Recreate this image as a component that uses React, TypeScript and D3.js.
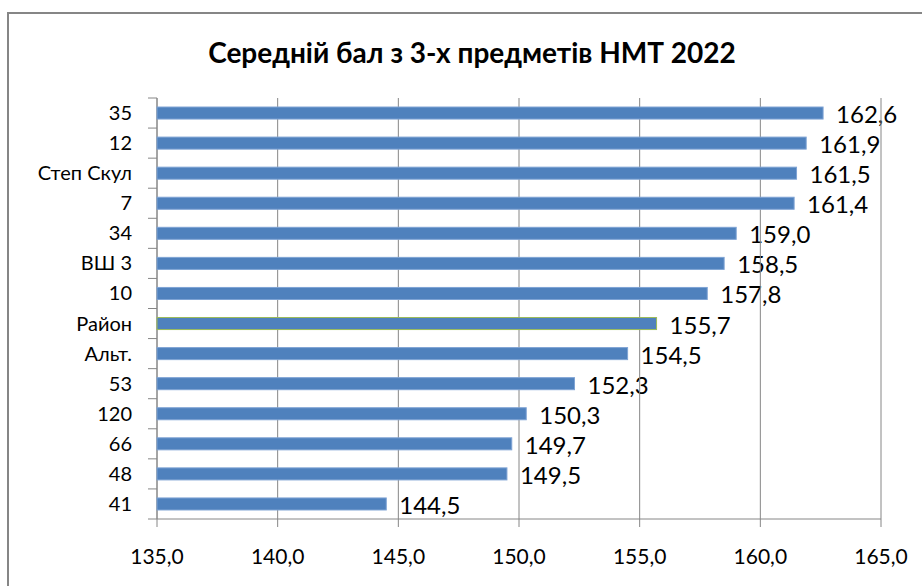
import React from "react";
import * as d3 from "d3";

const categories = ["35", "12", "Степ Скул", "7", "34", "ВШ 3", "10", "Район", "Альт.", "53", "120", "66", "48", "41"];
const values = [162.6, 161.9, 161.5, 161.4, 159.0, 158.5, 157.8, 155.7, 154.5, 152.3, 150.3, 149.7, 149.5, 144.5];
const xTicks = [135, 140, 145, 150, 155, 160, 165];
const highlight = "Район";
const title = "Середній бал з 3-х предметів НМТ 2022";

const W = 922;
const H = 586;
const margin = { top: 98, right: 41, bottom: 67, left: 157 };
const font = "Lato, 'Open Sans', sans-serif";
const grid = "#868686";

const App = () => {
  const x = d3.scaleLinear().domain([135, 165]).range([margin.left, W - margin.right]);
  const y = d3
    .scaleBand<string>()
    .domain(categories)
    .range([margin.top, H - margin.bottom])
    .paddingInner(0.6)
    .paddingOuter(0.3);
  const step = y.step();
  const bottom = H - margin.bottom;
  const fmt = (v: number) => d3.format(".1f")(v).replace(".", ",");
  // boundaries between categories for the left tick marks
  const bounds = d3.range(categories.length + 1).map((i) => margin.top + i * step);

  return (
    <svg width={W} height={H} style={{ position: "absolute", left: 0, top: 0 }}>
      <rect x={0} y={0} width={W} height={H} fill="#fff" />
      {/* chart frame, runs off the right and bottom edges */}
      <rect x={8} y={13} width={W + 20} height={H + 20} fill="none" stroke={grid} strokeWidth={2} />

      <text x={472} y={63} textAnchor="middle" fontFamily={font} fontWeight="bold" fontSize={28} fill="#000">
        {title}
      </text>

      {/* data labels (grid is painted over them) */}
      {categories.map((c, i) => (
        <text
          key={"v" + c}
          x={x(values[i]) + 13}
          y={y(c)! + y.bandwidth() / 2 + 10}
          fontFamily={font}
          fontSize={24}
          fill="#000"
        >
          {fmt(values[i])}
        </text>
      ))}

      {/* vertical gridlines */}
      {xTicks.map((t) => (
        <line key={"g" + t} x1={x(t)} x2={x(t)} y1={margin.top} y2={bottom + 8} stroke={grid} strokeWidth={1} />
      ))}

      {/* axes */}
      <line x1={margin.left} x2={margin.left} y1={margin.top} y2={bottom} stroke={grid} />
      <line x1={margin.left} x2={x(165)} y1={bottom} y2={bottom} stroke={grid} />
      {bounds.map((b, i) => (
        <line key={"t" + i} x1={margin.left - 9} x2={margin.left} y1={b} y2={b} stroke={grid} />
      ))}

      {/* bars */}
      {categories.map((c, i) => (
        <rect
          key={"b" + c}
          x={x(135)}
          y={y(c)!}
          width={x(values[i]) - x(135)}
          height={y.bandwidth()}
          fill="#4F81BD"
          stroke={c === highlight ? "#9BBB59" : "#7EA3D4"}
          strokeWidth={1}
        />
      ))}

      {/* category labels */}
      {categories.map((c) => (
        <text
          key={"c" + c}
          x={132}
          y={y(c)! + y.bandwidth() / 2 + 7}
          textAnchor="end"
          fontFamily={font}
          fontSize={20}
          fill="#000"
        >
          {c}
        </text>
      ))}

      {/* x tick labels */}
      {xTicks.map((t) => (
        <text key={"l" + t} x={x(t)} y={564} textAnchor="middle" fontFamily={font} fontSize={21} fill="#000">
          {fmt(t)}
        </text>
      ))}
    </svg>
  );
};

export default App;
